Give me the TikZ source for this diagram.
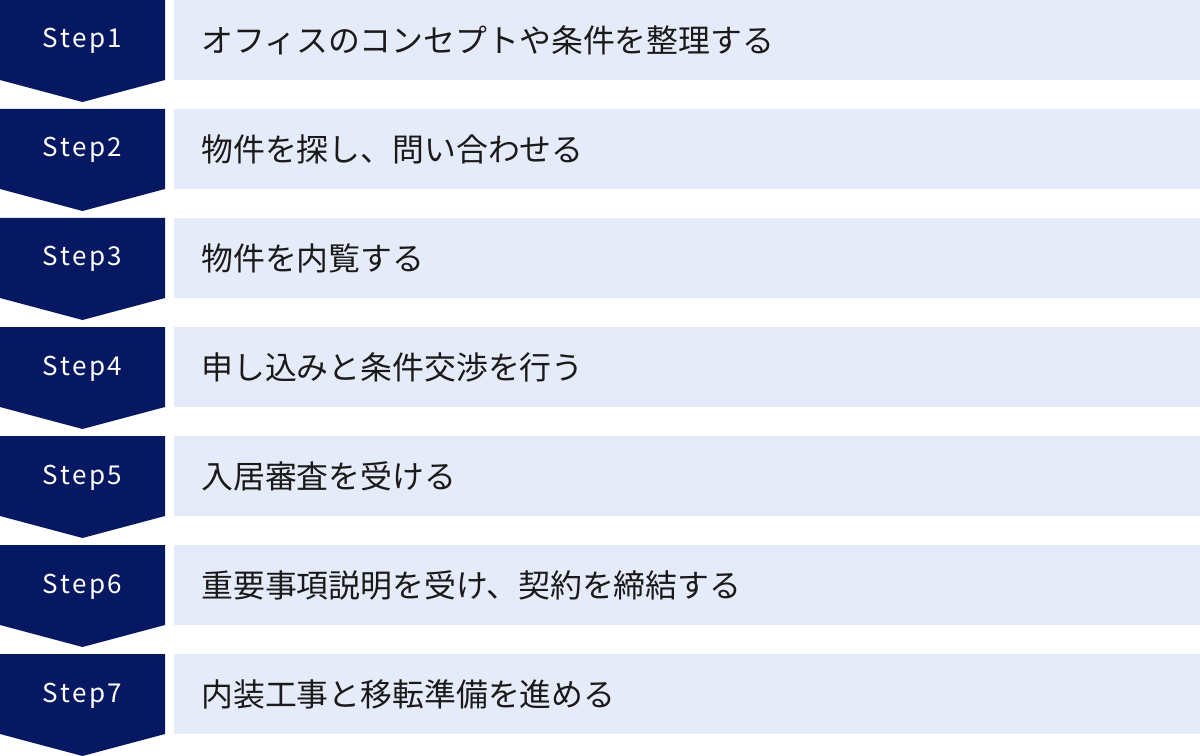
\documentclass[tikz,border=0pt]{standalone}
\usepackage{fontspec}
\setmainfont{Noto Sans CJK JP}
\newfontfamily\steplabelfont[LetterSpace=10]{Noto Sans CJK JP}
\definecolor{stepnavy}{RGB}{6,24,98}
\definecolor{barblue}{RGB}{230,235,249}
\definecolor{steptextcol}{RGB}{26,26,26}
\begin{document}
\begin{tikzpicture}[x=0.75pt,y=-0.75pt,
    stepmark/.style={anchor=base,text=white,inner sep=0pt,font=\steplabelfont\fontsize{19.5}{20}\selectfont},
    steptext/.style={anchor=west,text=steptextcol,inner sep=0pt,font=\fontsize{23.9}{25}\selectfont}]
                \useasboundingbox (0,0) rectangle (1200,756);

                \fill [stepnavy] (0,0) -- (165,0) -- (165,80) -- (82.5,102) -- (0,80) -- cycle;
                \fill [stepnavy] (0,109) -- (165,109) -- (165,189) -- (82.5,211) -- (0,189) -- cycle;
                \fill [stepnavy] (0,218) -- (165,218) -- (165,298) -- (82.5,320) -- (0,298) -- cycle;
                \fill [stepnavy] (0,327) -- (165,327) -- (165,407) -- (82.5,429) -- (0,407) -- cycle;
                \fill [stepnavy] (0,436) -- (165,436) -- (165,516) -- (82.5,538) -- (0,516) -- cycle;
                \fill [stepnavy] (0,545) -- (165,545) -- (165,625) -- (82.5,647) -- (0,625) -- cycle;
                \fill [stepnavy] (0,654) -- (165,654) -- (165,734) -- (82.5,756) -- (0,734) -- cycle;

                \fill [barblue] (174,0) rectangle (1200,80);
                \fill [barblue] (174,109) rectangle (1200,189);
                \fill [barblue] (174,218) rectangle (1200,298);
                \fill [barblue] (174,327) rectangle (1200,407);
                \fill [barblue] (174,436) rectangle (1200,516);
                \fill [barblue] (174,545) rectangle (1200,625);
                \fill [barblue] (174,654) rectangle (1200,734);

                \node [stepmark] (step1) at (82.5,48) {Step1};
                \node [stepmark] (step2) at (82.5,157) {Step2};
                \node [stepmark] (step3) at (82.5,266) {Step3};
                \node [stepmark] (step4) at (82.5,375) {Step4};
                \node [stepmark] (step5) at (82.5,484) {Step5};
                \node [stepmark] (step6) at (82.5,593) {Step6};
                \node [stepmark] (step7) at (82.5,702) {Step7};

                \node [steptext] (task1) at (201,40) {オフィスのコンセプトや条件を整理する};
                \node [steptext] (task2) at (201,149) {物件を探し、問い合わせる};
                \node [steptext] (task3) at (201,258) {物件を内覧する};
                \node [steptext] (task4) at (201,367) {申し込みと条件交渉を行う};
                \node [steptext] (task5) at (201,476) {入居審査を受ける};
                \node [steptext] (task6) at (201,585) {重要事項説明を受け、契約を締結する};
                \node [steptext] (task7) at (201,694) {内装工事と移転準備を進める};
            \end{tikzpicture}
\end{document}
